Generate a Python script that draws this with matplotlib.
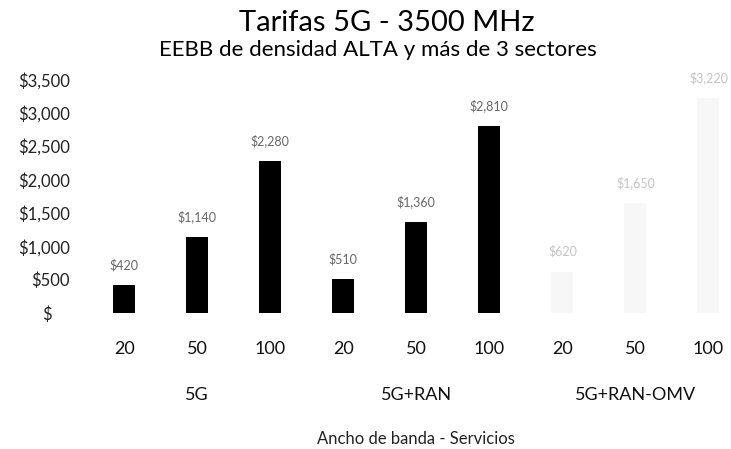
import matplotlib
matplotlib.use("Agg")
import matplotlib.pyplot as plt
from matplotlib.transforms import blended_transform_factory

plt.rcParams["font.family"] = ["Lato", "DejaVu Sans"]

# Datos (USD)
anchos = ["20", "50", "100", "20", "50", "100", "20", "50", "100"]
servicios = ["5G", "5G+RAN", "5G+RAN-OMV"]
tarifas_5g = [420, 1140, 2280]
tarifas_ran = [510, 1360, 2810]
tarifas_omv = [620, 1650, 3220]
yticks = [0, 500, 1000, 1500, 2000, 2500, 3000, 3500]


def fmt_usd(v):
    return "$" if v == 0 else f"${v:,.0f}"


fig = plt.figure(figsize=(7.31, 4.49), dpi=100)
ax = fig.add_axes([0.12, 0.303, 0.899, 0.52])

valores = tarifas_5g + tarifas_ran + tarifas_omv
x = list(range(len(valores)))
colores = ["black"] * 6 + ["#f7f7f7"] * 3
bars = ax.bar(x, valores, width=0.3, color=colores)

for i, (b, v) in enumerate(zip(bars, valores)):
    c = "#666666" if i < 6 else "#c4c4c4"
    ax.text(b.get_x() + b.get_width() / 2, v + 300, fmt_usd(v),
            ha="center", va="center", fontsize=9, color=c)

ax.set_xlim(-0.5, 8.5)
ax.set_ylim(0, 3500)
ax.set_yticks(yticks)
# el cero en formato contable: "$" sin alinear a la derecha
ylabels = [fmt_usd(v) if v else "$    " for v in yticks]
ax.set_yticklabels(ylabels, fontsize=12, color="#222222")
ax.set_xticks(x)
ax.set_xticklabels(anchos, fontsize=13, color="#111111")
ax.tick_params(axis="both", length=0)
ax.tick_params(axis="x", pad=20)
ax.tick_params(axis="y", pad=13)
for s in ax.spines.values():
    s.set_visible(False)

trans = blended_transform_factory(ax.transData, fig.transFigure)
for k, nombre in enumerate(servicios):
    ax.text(3 * k + 1, 0.12, nombre, transform=trans, ha="center", va="center",
            fontsize=13, color="#111111")

fig.text(0.569, 0.022, "Ancho de banda - Servicios", ha="center", va="center",
         fontsize=12, color="#222222")
fig.text(0.529, 0.949, "Tarifas 5G - 3500 MHz", ha="center", va="center", fontsize=21)
fig.text(0.517, 0.889, "EEBB de densidad ALTA y más de 3 sectores", ha="center",
         va="center", fontsize=16)

fig.savefig("out.png", dpi=100)
